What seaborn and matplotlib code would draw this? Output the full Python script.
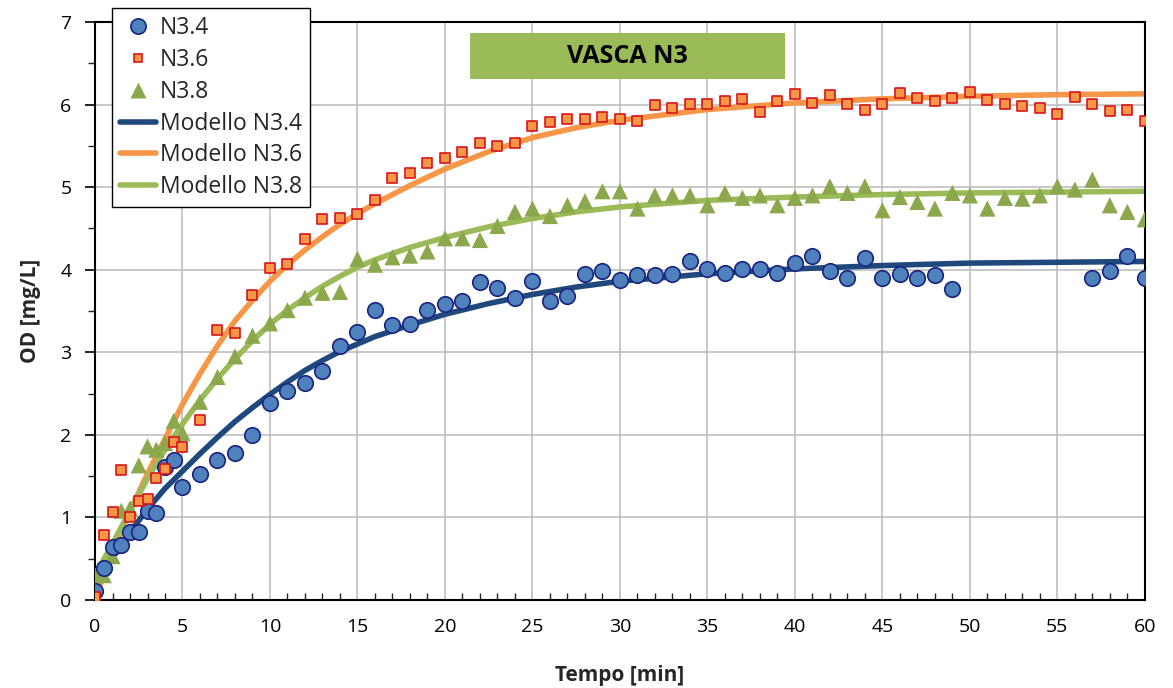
import numpy as np
import pandas as pd
import matplotlib
matplotlib.use("Agg")
import matplotlib.pyplot as plt
import seaborn as sns
from matplotlib.lines import Line2D
from matplotlib.patches import Rectangle
from matplotlib.ticker import MultipleLocator

# measured points
t_n34 = [0, 0.5, 1, 1.5, 2, 2.5, 3, 3.5, 4, 4.5, 5] + list(range(6, 50)) + [57, 58, 59, 60]
od_n34 = [0.11, 0.39, 0.64, 0.66, 0.82, 0.82, 1.08, 1.05, 1.61, 1.70, 1.37,
          1.53, 1.70, 1.78, 2.00, 2.39, 2.53, 2.63, 2.77, 3.07, 3.25,
          3.51, 3.33, 3.34, 3.51, 3.58, 3.62, 3.85, 3.78, 3.66, 3.86,
          3.62, 3.68, 3.95, 3.98, 3.88, 3.94, 3.93, 3.95, 4.11, 4.01,
          3.96, 4.01, 4.01, 3.96, 4.08, 4.17, 3.98, 3.90, 4.14, 3.90,
          3.95, 3.90, 3.94, 3.77,
          3.90, 3.98, 4.17, 3.90]

t_n36 = [0, 0.5, 1, 1.5, 2, 2.5, 3, 3.5, 4, 4.5, 5] + list(range(6, 61))
od_n36 = [0.03, 0.79, 1.06, 1.57, 1.00, 1.20, 1.22, 1.48, 1.58, 1.91, 1.85,
          2.18, 3.27, 3.23, 3.69, 4.02, 4.07, 4.37, 4.62, 4.63, 4.68,
          4.84, 5.11, 5.17, 5.29, 5.35, 5.43, 5.54, 5.50, 5.54, 5.74,
          5.79, 5.83, 5.83, 5.85, 5.83, 5.80, 5.99, 5.96, 6.01, 6.01,
          6.04, 6.07, 5.91, 6.04, 6.13, 6.02, 6.11, 6.01, 5.94, 6.01,
          6.14, 6.08, 6.04, 6.08, 6.15, 6.06, 6.01, 5.98, 5.96, 5.89,
          6.09, 6.01, 5.92, 5.93, 5.80]

t_n38 = [0, 0.5, 1, 1.5, 2, 2.5, 3, 3.5, 4, 4.5, 5] + list(range(6, 61))
od_n38 = [0.30, 0.30, 0.53, 1.08, 1.11, 1.63, 1.86, 1.82, 1.90, 2.17, 2.02,
          2.40, 2.70, 2.95, 3.20, 3.35, 3.51, 3.66, 3.72, 3.73, 4.13,
          4.06, 4.15, 4.17, 4.22, 4.38, 4.38, 4.36, 4.53, 4.70, 4.74,
          4.65, 4.78, 4.83, 4.95, 4.95, 4.74, 4.90, 4.90, 4.90, 4.78,
          4.93, 4.87, 4.90, 4.78, 4.87, 4.90, 5.01, 4.93, 5.01, 4.72,
          4.88, 4.82, 4.74, 4.93, 4.90, 4.74, 4.87, 4.86, 4.90, 5.01,
          4.97, 5.09, 4.78, 4.70, 4.61]

# model curves
t_mod = list(range(0, 17)) + [18, 20, 22.5, 25, 27.5, 30, 35, 40, 45, 50, 55, 60]
mod_n34 = [0.15, 0.51, 0.82, 1.10, 1.35, 1.56, 1.77, 1.97, 2.16, 2.33, 2.49,
           2.64, 2.78, 2.90, 3.01, 3.10, 3.19, 3.33, 3.46, 3.59, 3.70,
           3.79, 3.86, 3.95, 4.01, 4.05, 4.08, 4.09, 4.10]
mod_n36 = [0.03, 0.58, 1.08, 1.53, 1.95, 2.37, 2.74, 3.08, 3.38, 3.63, 3.86,
           4.06, 4.24, 4.40, 4.55, 4.68, 4.80, 5.02, 5.22, 5.43, 5.60,
           5.72, 5.81, 5.94, 6.02, 6.07, 6.10, 6.12, 6.13]
mod_n38 = [0.30, 0.68, 1.08, 1.47, 1.82, 2.13, 2.42, 2.68, 2.92, 3.14, 3.34,
           3.51, 3.66, 3.80, 3.92, 4.03, 4.12, 4.27, 4.39, 4.52, 4.62,
           4.70, 4.76, 4.84, 4.88, 4.91, 4.93, 4.94, 4.95]

sns.set_theme(style="white")
plt.rcParams['font.family'] = ['Open Sans', 'DejaVu Sans']

fig = plt.figure(figsize=(11.73, 6.88), dpi=100)
ax = fig.add_axes([0.081, 0.128, 0.895, 0.840])

c_blue_line = "#1F497D"
c_orange = "#F79646"
c_green_line = "#9BBB59"

models = pd.DataFrame({"t": t_mod, "N3.4": mod_n34, "N3.6": mod_n36, "N3.8": mod_n38})
sns.lineplot(data=models, x="t", y="N3.4", color=c_blue_line, lw=4, ax=ax, zorder=2)
sns.lineplot(data=models, x="t", y="N3.6", color=c_orange, lw=4, ax=ax, zorder=2)
sns.lineplot(data=models, x="t", y="N3.8", color=c_green_line, lw=4, ax=ax, zorder=2)

sns.scatterplot(x=t_n34, y=od_n34, marker="o", s=125, color="#4F81BD",
                edgecolor="#1A237E", linewidth=1.2, ax=ax, zorder=4)
sns.scatterplot(x=t_n36, y=od_n36, marker="s", s=42, color="#F79646",
                edgecolor="#D9141B", linewidth=1.2, ax=ax, zorder=4)
sns.scatterplot(x=t_n38, y=od_n38, marker="^", s=135, color="#8BA84C",
                edgecolor="none", linewidth=0, ax=ax, zorder=3)

ax.set_xlim(0, 60)
ax.set_ylim(0, 7)
ax.xaxis.set_major_locator(MultipleLocator(5))
ax.xaxis.set_minor_locator(MultipleLocator(1))
ax.yaxis.set_major_locator(MultipleLocator(1))
ax.yaxis.set_minor_locator(MultipleLocator(0.5))
ax.grid(True, which="major", color="#BFBFBF", lw=1.2)
ax.set_axisbelow(True)
for sp in ax.spines.values():
    sp.set_color("black")
    sp.set_linewidth(1.5)
ax.tick_params(axis="x", which="major", direction="inout", length=10, width=1.2,
               labelsize=14, pad=8, colors="black")
ax.tick_params(axis="x", which="minor", direction="in", length=5, width=1,
               bottom=True)
ax.tick_params(axis="y", which="major", direction="out", length=7, width=1.2,
               labelsize=14, pad=10, colors="black", left=True)
ax.tick_params(axis="y", which="minor", direction="out", length=5, width=1,
               left=True)

ax.set_xlabel("Tempo [min]", fontsize=15, fontweight="bold", labelpad=21)
ax.set_ylabel("OD [mg/L]", fontsize=15, fontweight="bold", labelpad=14)

# title box
ax.add_patch(Rectangle((0.357, 0.901), 0.300, 0.080, transform=ax.transAxes,
                       facecolor="#9BBB59", edgecolor="none", zorder=5))
ax.text(0.507, 0.941, "VASCA N3", transform=ax.transAxes, ha="center",
        va="center", fontsize=18, fontweight="bold", color="black", zorder=6)

handles = [
    Line2D([], [], ls="none", marker="o", ms=11, mfc="#4F81BD", mec="#1A237E", mew=1.2),
    Line2D([], [], ls="none", marker="s", ms=6, mfc="#F79646", mec="#D9141B", mew=1.2),
    Line2D([], [], ls="none", marker="^", ms=11, mfc="#8BA84C", mec="none"),
    Line2D([], [], color=c_blue_line, lw=4, solid_capstyle="round"),
    Line2D([], [], color=c_orange, lw=4, solid_capstyle="round"),
    Line2D([], [], color=c_green_line, lw=4, solid_capstyle="round"),
]
labels = ["N3.4", "N3.6", "N3.8", "Modello N3.4", "Modello N3.6", "Modello N3.8"]
leg = ax.legend(handles, labels, loc="upper left", bbox_to_anchor=(0.016, 1.024),
                borderaxespad=0, fontsize=16.5, frameon=True, fancybox=False,
                framealpha=1, edgecolor="black", handlelength=1.6,
                handletextpad=0.15, labelspacing=0.34, borderpad=0.35)
leg.get_frame().set_linewidth(1.0)
leg.set_zorder(10)

fig.savefig("out.png", dpi=100)
